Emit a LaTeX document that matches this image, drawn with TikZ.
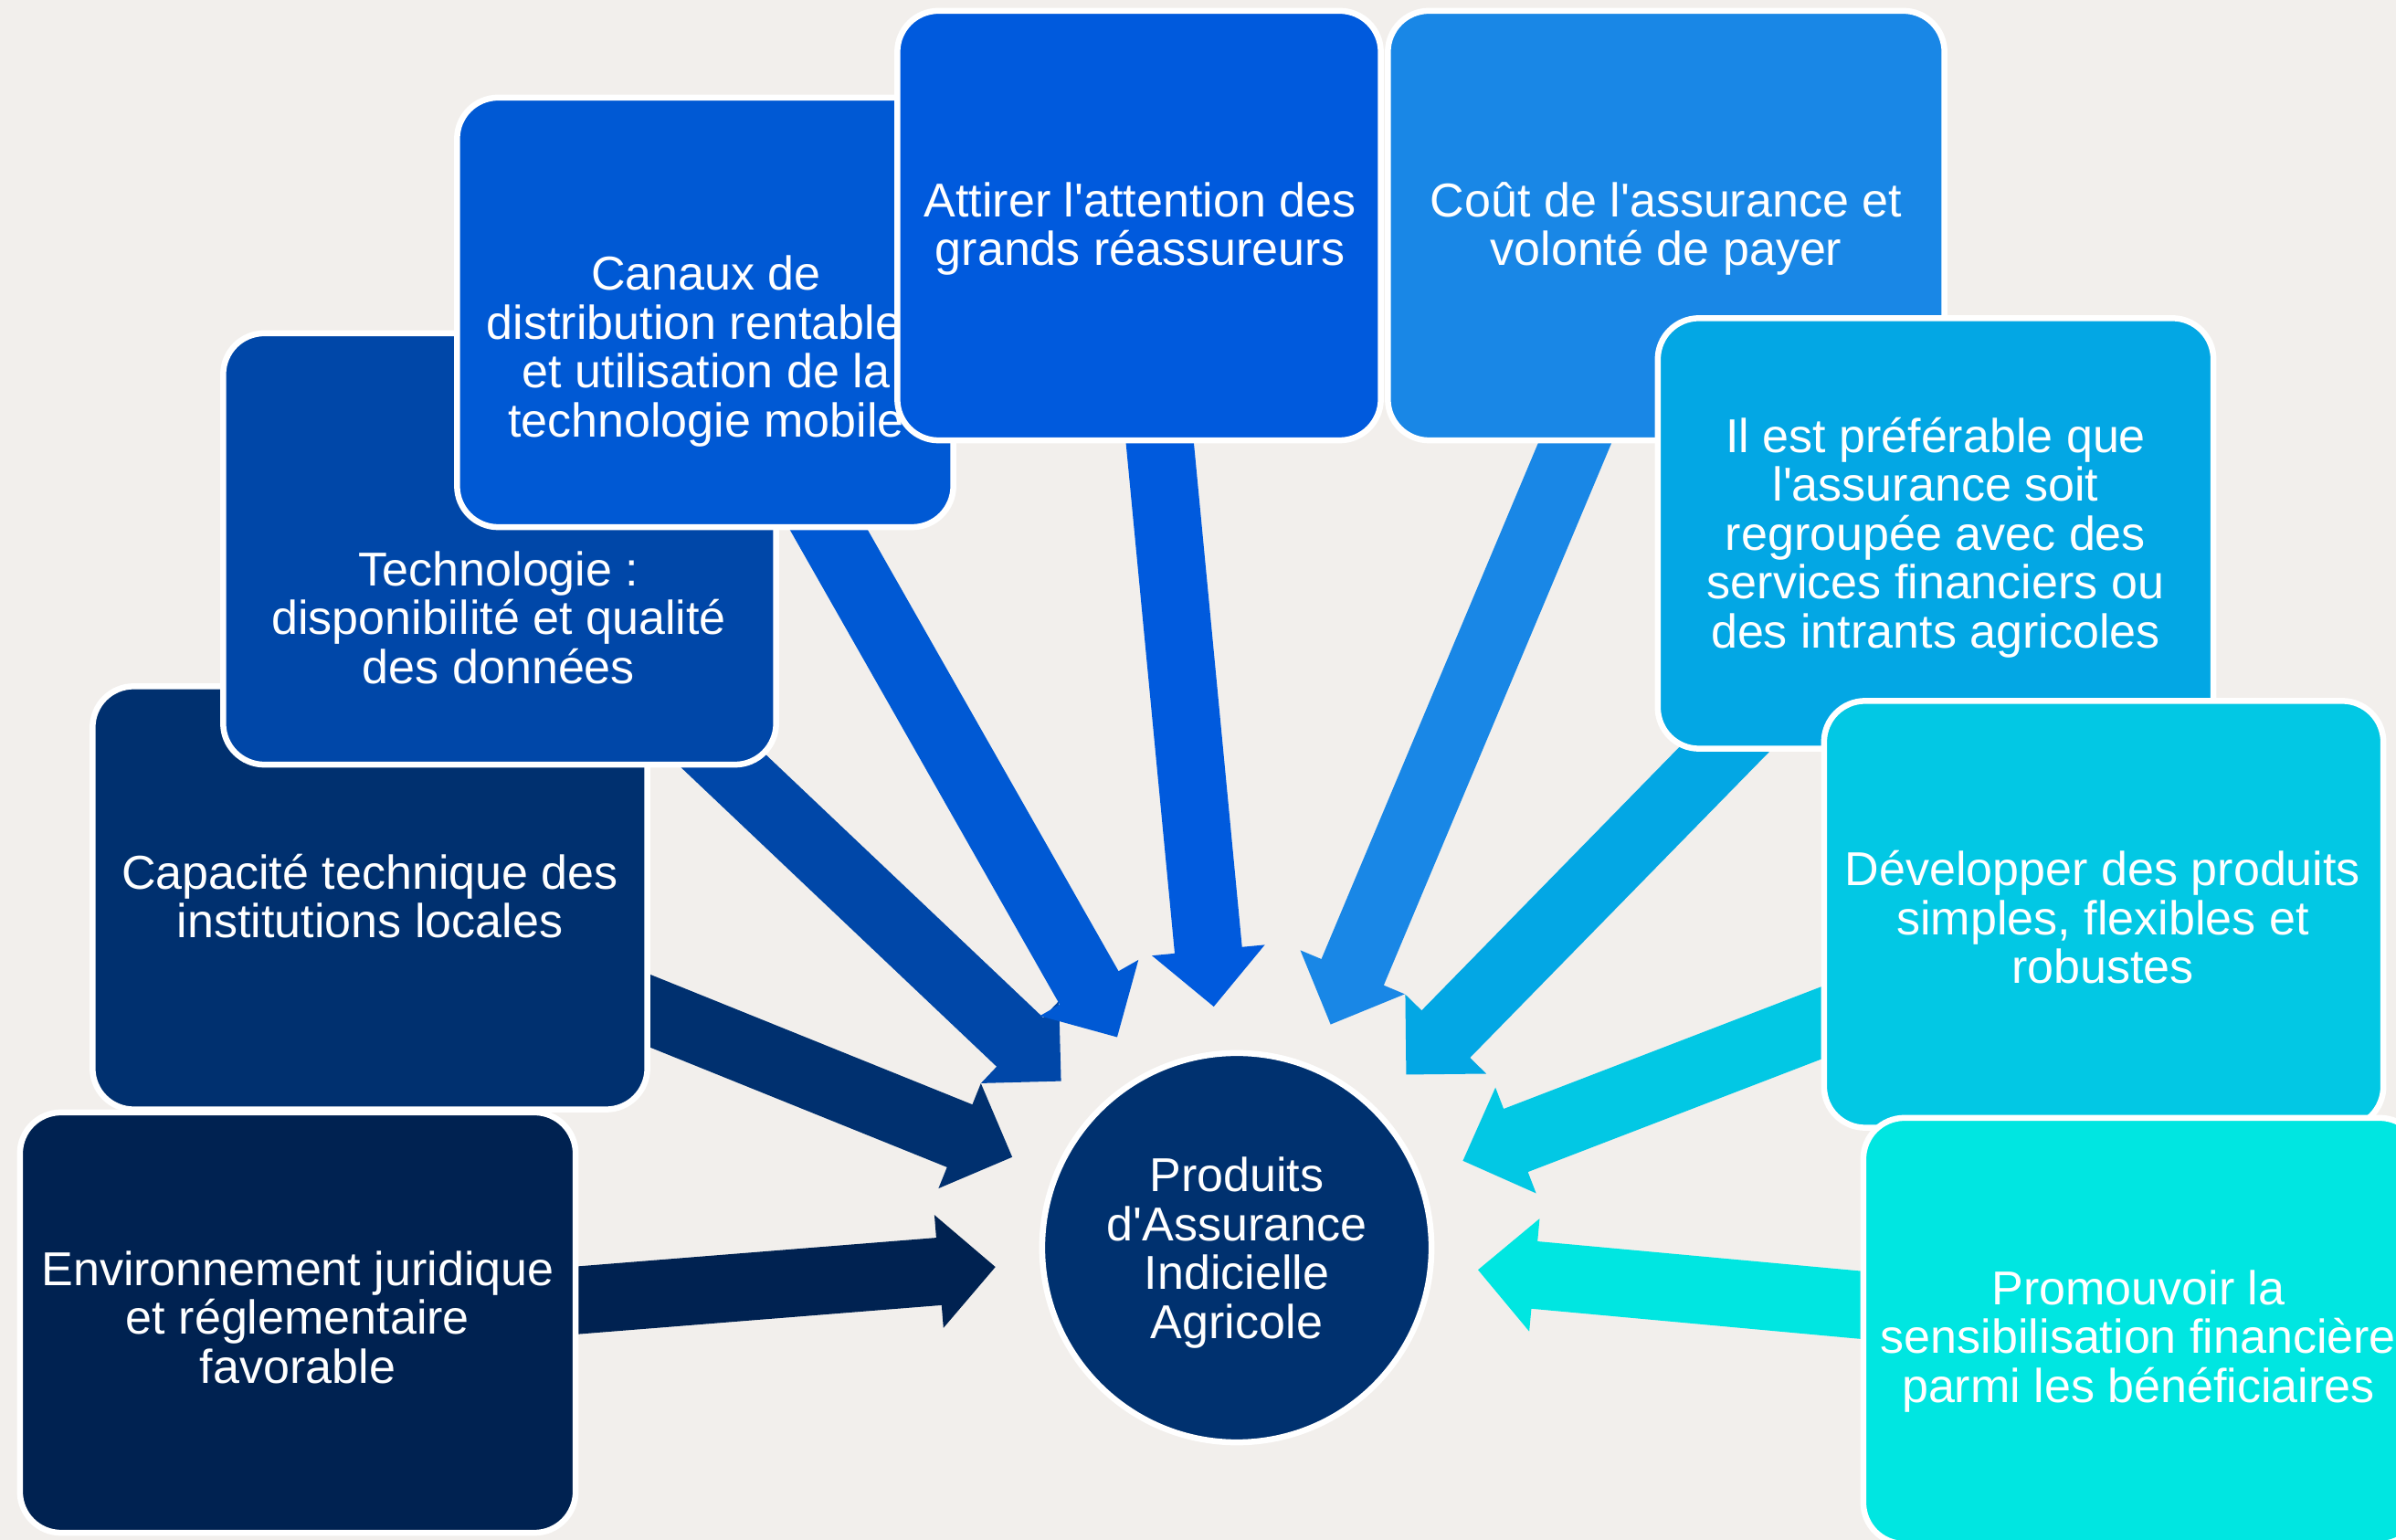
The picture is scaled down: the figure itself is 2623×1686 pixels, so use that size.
\documentclass[tikz,border=0pt]{standalone}
\usepackage{fontspec}
\newfontfamily\lsans{Liberation Sans}
\usetikzlibrary{calc}
\definecolor{bgc}{HTML}{F2EFEC}
\definecolor{cEnv}{HTML}{002251}
\definecolor{cCap}{HTML}{00306F}
\definecolor{cCtr}{HTML}{00316F}
\definecolor{cTech}{HTML}{0047A8}
\definecolor{cCan}{HTML}{0059D4}
\definecolor{cAtt}{HTML}{005ADD}
\definecolor{cCout}{HTML}{1987E6}
\definecolor{cIl}{HTML}{03A7E4}
\definecolor{cDev}{HTML}{02C8E4}
\definecolor{cProm}{HTML}{00E6E1}
\pgfdeclarelayer{back}
\pgfdeclarelayer{arrowlayer}
\pgfsetlayers{back,arrowlayer,main}
% block arrow from tail #1 to tip #2 in colour #3
\newcommand\blockarrow[3]{%
  \coordinate (#2-b) at ($(#2)!0.62cm!(#1)$);
  \fill[#3] ($(#1)!0.37cm!90:(#2)$) -- ($(#2-b)!0.37cm!90:(#2)$)
    -- ($(#2-b)!0.62cm!90:(#2)$) -- (#2) -- ($(#2-b)!0.62cm!-90:(#2)$)
    -- ($(#2-b)!0.37cm!-90:(#2)$) -- ($(#1)!0.37cm!-90:(#2)$) -- cycle;
}
\begin{document}
\begin{tikzpicture}[x=0.01cm,y=-0.01cm,
  box/.style={rectangle, rounded corners=0.45cm, draw=white, line width=0.065cm, inner sep=0pt},
  txt/.style={text=white, align=center, font=\lsans\fontsize{14.8pt}{15.2pt}\selectfont, inner sep=0pt, text depth=0pt}]
\path[use as bounding box] (0,0) rectangle (2623,1686);
\clip (0,0) rectangle (2623,1686);
\begin{pgfonlayer}{back}
\fill[bgc] (0,0) rectangle (2623,1686);
\end{pgfonlayer}

\node[box, fill=cEnv, minimum width=6.08cm, minimum height=4.60cm] (env) at (326,1448) {};
\node[txt] (envT) at (326,1442) {Environnement juridique\\et réglementaire\\favorable};

\node[box, fill=cCap, minimum width=6.07cm, minimum height=4.63cm] (cap) at (405,983) {};
\node[txt] (capT) at (405,981) {Capacité technique des\\institutions locales};

\node[box, fill=cTech, minimum width=6.05cm, minimum height=4.72cm] (tech) at (547,601) {};
\node[txt] (techT) at (546,676) {Technologie~:\\disponibilité et qualité\\des données};

\node[box, fill=cCan, minimum width=5.43cm, minimum height=4.70cm] (can) at (772,342) {};
\node[txt] (canT) at (773,379) {Canaux de\\distribution rentable\kern0.26cm\\et utilisation de la\\technologie mobile};

\node[box, fill=cAtt, minimum width=5.29cm, minimum height=4.70cm] (att) at (1247,247) {};
\node[txt] (attT) at (1248,245) {Attirer l'attention des\\grands réassureurs};

\node[box, fill=cCout, minimum width=6.09cm, minimum height=4.70cm] (cout) at (1824,247) {};
\node[txt] (coutT) at (1824,245) {Coût de l'assurance et\\volonté de payer};

\node[box, fill=cIl, minimum width=6.08cm, minimum height=4.71cm] (ilest) at (2119,584) {};
\node[txt] (ilestT) at (2119,583) {Il est préférable que\\l'assurance soit\\regroupée avec des\\services financiers ou\\des intrants agricoles};

\node[box, fill=cDev, minimum width=6.12cm, minimum height=4.67cm] (dev) at (2303,1001) {};
\node[txt] (devT) at (2302,1004) {Développer des produits\\simples, flexibles et\\robustes};

\node[box, fill=cProm, minimum width=6.10cm, minimum height=4.66cm] (prom) at (2345,1457) {};
\node[txt] (promT) at (2341,1463) {Promouvoir la\\sensibilisation financière\\parmi les bénéficiaires};

\node[circle, fill=cCtr, draw=white, line width=0.065cm, minimum size=4.26cm, inner sep=0pt] (ctr) at (1354,1366) {};
\node[txt] (ctrT) at (1354,1366) {Produits\\d'Assurance\\Indicielle\\Agricole};

\begin{pgfonlayer}{arrowlayer}
\foreach \b/\c in {env/cEnv, cap/cCap, tech/cTech, can/cCan, att/cAtt, cout/cCout, ilest/cIl, dev/cDev, prom/cProm} {
  \coordinate (\b-tip) at ($(ctr.center)!2.65cm!(\b.center)$);
  \blockarrow{\b.center}{\b-tip}{\c}
}
\end{pgfonlayer}
\end{tikzpicture}
\end{document}
